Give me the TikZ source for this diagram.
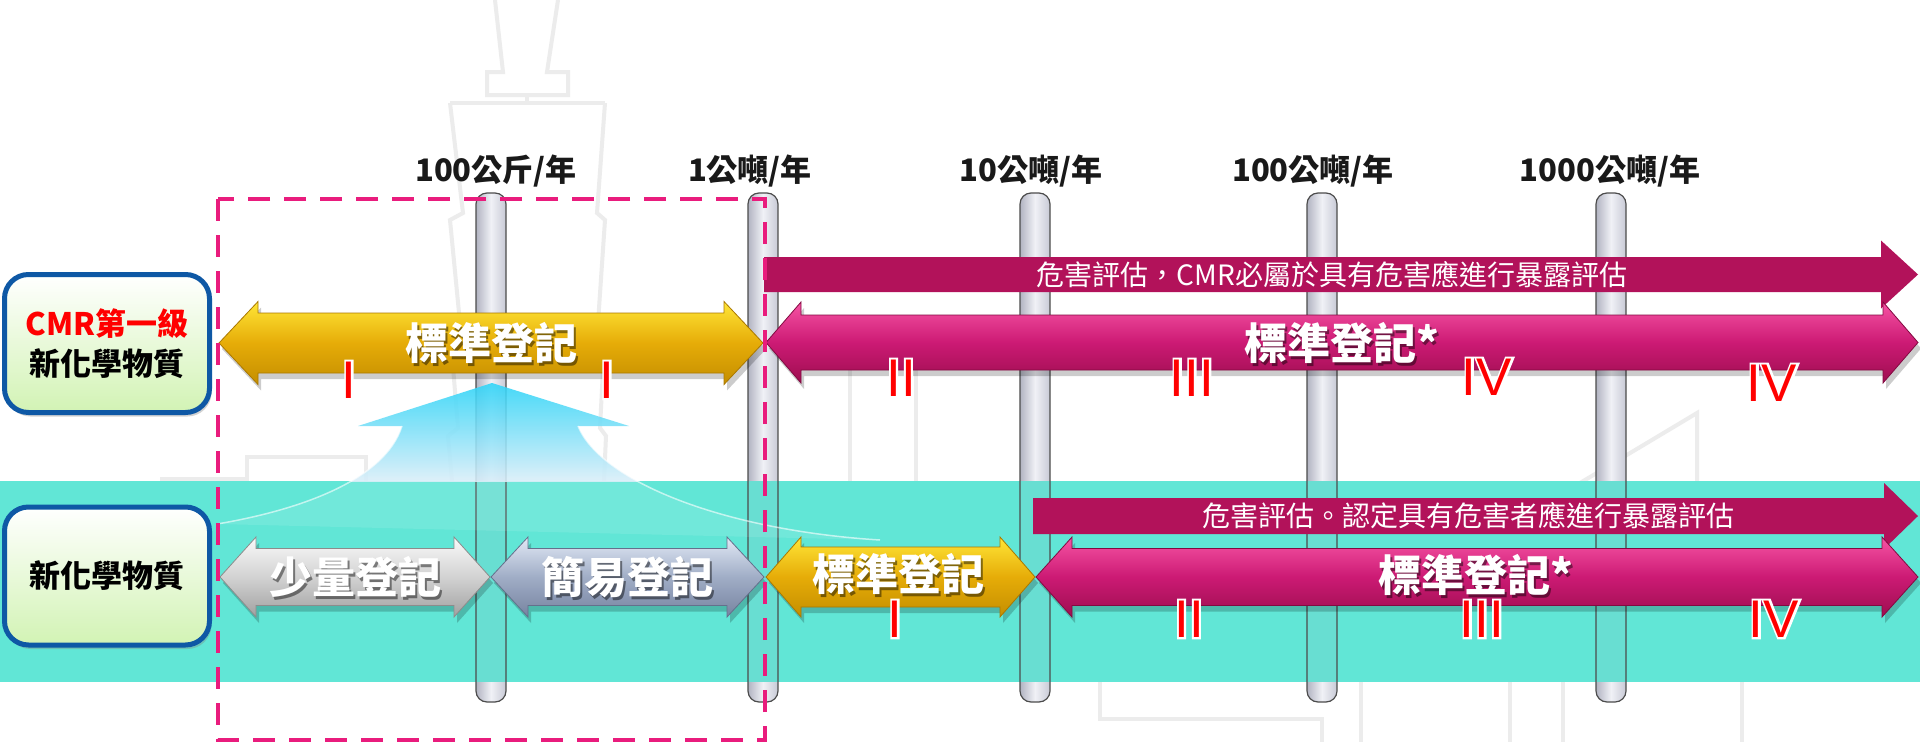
\documentclass[tikz,border=0pt]{standalone}
\usepackage{fontspec}
\newfontfamily\cjk{Noto Sans CJK TC}
\newfontfamily\numfont{Liberation Sans}
\newfontfamily\numhalo[FakeBold=8]{Liberation Sans}
\usetikzlibrary{shadows}
\definecolor{bandteal}{RGB}{97,230,214}
\definecolor{bandbar}{RGB}{104,222,210}
\definecolor{dashpink}{RGB}{233,28,125}
\definecolor{magflat}{RGB}{178,18,90}
\definecolor{wmgray}{RGB}{236,236,236}
\definecolor{yelTop}{RGB}{255,230,55}
\definecolor{yelMid}{RGB}{230,172,8}
\definecolor{yelBot}{RGB}{196,142,0}
\definecolor{yelEdge}{RGB}{170,120,0}
\definecolor{magTop}{RGB}{246,84,164}
\definecolor{magMid}{RGB}{204,26,116}
\definecolor{magBot}{RGB}{158,14,80}
\definecolor{magEdge}{RGB}{130,10,65}
\definecolor{gryTop}{RGB}{250,250,250}
\definecolor{gryMid}{RGB}{210,210,210}
\definecolor{gryBot}{RGB}{160,160,160}
\definecolor{gryEdge}{RGB}{140,140,140}
\definecolor{bgyTop}{RGB}{226,233,246}
\definecolor{bgyMid}{RGB}{160,173,198}
\definecolor{bgyBot}{RGB}{118,131,160}
\definecolor{bgyEdge}{RGB}{100,112,140}
\definecolor{barL}{RGB}{178,180,194}
\definecolor{barM}{RGB}{240,241,246}
\definecolor{barR}{RGB}{200,202,214}
\definecolor{boxBlue}{RGB}{14,88,165}
\definecolor{boxGreen}{RGB}{210,243,180}
\definecolor{fanTop}{RGB}{45,212,248}
\definecolor{fanBot}{RGB}{218,238,249}
\tikzset{
  wmline/.style={draw=wmgray, line width=4pt},
  barshade/.style={left color=barL, right color=barR, middle color=barM},
  baredge/.style={draw=black!70, line width=1.2pt},
  yelarrow/.style={top color=yelTop, bottom color=yelBot, middle color=yelMid, draw=yelEdge, line width=0.8pt},
  magarrow/.style={top color=magTop, bottom color=magBot, middle color=magMid, draw=magEdge, line width=0.8pt},
  gryarrow/.style={top color=gryTop, bottom color=gryBot, middle color=gryMid, draw=gryEdge, line width=0.8pt},
  bgyarrow/.style={top color=bgyTop, bottom color=bgyBot, middle color=bgyMid, draw=bgyEdge, line width=0.8pt},
  thinarrow/.style={fill=magflat},
  arrowtxt/.style={text=white, font=\cjk\bfseries\fontsize{43}{43}\selectfont, inner sep=0pt},
  arrowtxtsh/.style={text=black, opacity=0.45, font=\cjk\bfseries\fontsize{43}{43}\selectfont, inner sep=0pt},
  thintxt/.style={text=white, font=\cjk\fontsize{28}{28}\selectfont, inner sep=0pt},
  toplab/.style={text=black!90, font=\cjk\bfseries\fontsize{31}{31}\selectfont, inner sep=0pt},
  romred/.style={text=red, font=\numfont\fontsize{53}{53}\selectfont, inner sep=0pt},
  romhalo/.style={text=white, font=\numhalo\fontsize{53}{53}\selectfont, inner sep=0pt},
  catbox/.style={minimum width=205pt, minimum height=138pt, rounded corners=24pt, draw=boxBlue, line width=5pt,
     top color=white, bottom color=boxGreen, drop shadow={opacity=0.35, shadow xshift=2pt, shadow yshift=-4pt},
     font=\cjk\bfseries\fontsize{31}{40}\selectfont, align=center, inner sep=0pt},
  dashbox/.style={draw=dashpink, line width=4pt, dash pattern=on 22pt off 14pt},
}
% double arrow: xl, xr, yc, head half height, shaft half height, head length, style
\newcommand\DblArrow[7]{%
  \begin{scope}[shift={(3,6)}]
    \fill[black,opacity=0.2] (#1,#3) -- (#1+#6,#3-#4) -- (#1+#6,#3-#5) -- (#2-#6,#3-#5) -- (#2-#6,#3-#4) -- (#2,#3) -- (#2-#6,#3+#4) -- (#2-#6,#3+#5) -- (#1+#6,#3+#5) -- (#1+#6,#3+#4) -- cycle;
  \end{scope}
  \path[#7] (#1,#3) -- (#1+#6,#3-#4) -- (#1+#6,#3-#5) -- (#2-#6,#3-#5) -- (#2-#6,#3-#4) -- (#2,#3) -- (#2-#6,#3+#4) -- (#2-#6,#3+#5) -- (#1+#6,#3+#5) -- (#1+#6,#3+#4) -- cycle;
}
\newcommand\SglArrow[7]{%
  \path[#7] (#1,#3-#5) -- (#2-#6,#3-#5) -- (#2-#6,#3-#4) -- (#2,#3) -- (#2-#6,#3+#4) -- (#2-#6,#3+#5) -- (#1,#3+#5) -- cycle;
}
% roman numeral: name, x, y, text
\newcommand\RomNum[4]{%
  \node[romhalo] (#1h) at (#2,#3) {#4};
  \node[romred] (#1) at (#2,#3) {#4};
}
\def\fanpathA{(492,383) -- (629,426) -- (578,426) .. controls (600,480) and (720,530) .. (880,540) -- (217,524) .. controls (300,510) and (385,480) .. (402,426) -- (358,426) -- cycle}
\begin{document}
\begin{tikzpicture}[x=1pt,y=-1pt]
\useasboundingbox (0,0) rectangle (1920,742);
\fill[white] (0,0) rectangle (1920,742);
% watermark
\draw[wmline] (495,0) -- (503,72) -- (487,72) -- (487,95) -- (568,95) -- (568,72) -- (547,72) -- (558,0);
\draw[wmline] (527,95) -- (527,103);
\draw[wmline] (450,103) -- (605,103);
\draw[wmline] (450,103) -- (463,213) -- (450,220) -- (460,323) -- (450,330) -- (458,428) -- (448,436) -- (452,481);
\draw[wmline] (605,103) -- (597,213) -- (605,220) -- (598,323) -- (605,330) -- (600,428) -- (606,436) -- (604,481);
\draw[wmline] (160,479) -- (247,479) -- (247,457) -- (366,457) -- (366,481);
\draw[wmline] (850,370) -- (850,481);
\draw[wmline] (916,370) -- (916,481);
\draw[wmline] (1580,483) -- (1697,413) -- (1697,481);
\draw[wmline] (1100,682) -- (1100,719) -- (1322,719) -- (1322,742);
\draw[wmline] (1361,682) -- (1361,742);
\draw[wmline] (1510,682) -- (1510,742);
\draw[wmline] (1563,682) -- (1563,742);
\draw[wmline] (1742,682) -- (1742,742);
% bars
\foreach \bx in {491,763,1035,1322,1611}
  \path[barshade, rounded corners=11pt] (\bx-15,193) rectangle (\bx+15,702);
% band
\fill[bandteal] (0,481) rectangle (1920,682);
\foreach \bx in {491,763,1035,1322,1611}{
  \fill[bandbar] (\bx-15,481) rectangle (\bx+15,682);
  \draw[baredge, rounded corners=11pt] (\bx-15,193) rectangle (\bx+15,702);
}
% fan arrow
\begin{scope}
  \clip \fanpathA;
  \shade[top color=fanTop, bottom color=fanBot, opacity=0.88] (200,383) rectangle (900,481);
  \fill[white, opacity=0.1] (200,481) rectangle (900,560);
\end{scope}
\draw[white, opacity=0.6, line width=1.5pt] (578,426) .. controls (600,480) and (720,530) .. (880,540);
\draw[white, opacity=0.6, line width=1.5pt] (402,426) .. controls (385,480) and (300,510) .. (217,524);
% top labels
\node[toplab] (l1) at (496,171) {100公斤/年};
\node[toplab] (l2) at (750,171) {1公噸/年};
\node[toplab] (l3) at (1031,171) {10公噸/年};
\node[toplab] (l4) at (1313,171) {100公噸/年};
\node[toplab] (l5) at (1610,171) {1000公噸/年};
% CMR row arrows
\SglArrow{764}{1918}{274.5}{34}{17.5}{37}{thinarrow}
\node[thintxt] (h1) at (1332,274.5) {危害評估，CMR必屬於具有危害應進行暴露評估};
\DblArrow{219}{763}{343}{41.5}{30}{39}{yelarrow}
\DblArrow{766}{1918}{342.5}{40.5}{27.5}{35}{magarrow}
\node[arrowtxtsh] (a1s) at (493,346) {標準登記};
\node[arrowtxt] (a1) at (491,343) {標準登記};
\node[arrowtxtsh] (a2s) at (1344,346) {標準登記*};
\node[arrowtxt] (a2) at (1342,343) {標準登記*};
% lower row arrows
\SglArrow{1033}{1918}{516}{33}{18}{34}{thinarrow}
\node[thintxt] (h2) at (1468,516) {危害評估。認定具有危害者應進行暴露評估};
\DblArrow{220}{490}{577}{40}{28.5}{36}{gryarrow}
\DblArrow{491}{764}{577}{40}{28.5}{37}{bgyarrow}
\DblArrow{766}{1035}{577}{40}{30}{35}{yelarrow}
\DblArrow{1036}{1918}{577}{40}{28.5}{36}{magarrow}
\node[arrowtxtsh] (b1s) at (357,580) {少量登記};
\node[arrowtxt] (b1) at (355,577) {少量登記};
\node[arrowtxtsh] (b2s) at (629,580) {簡易登記};
\node[arrowtxt] (b2) at (627,577) {簡易登記};
\node[arrowtxtsh] (b3s) at (900,577) {標準登記};
\node[arrowtxt] (b3) at (898,574) {標準登記};
\node[arrowtxtsh] (b4s) at (1478,578) {標準登記*};
\node[arrowtxt] (b4) at (1476,575) {標準登記*};
% roman numerals
\RomNum{r1}{349}{380}{I}
\RomNum{r2}{607}{380}{I}
\RomNum{r3}{901}{378}{II}
\RomNum{r4}{1192}{378}{III}
\RomNum{r5}{1487}{377}{IV}
\RomNum{r6}{1772}{383}{IV}
\RomNum{r7}{895}{619}{I}
\RomNum{r8}{1189}{619}{II}
\RomNum{r9}{1482}{619}{III}
\RomNum{r10}{1774}{619}{IV}
% dashed frame
\draw[dashbox] (218,199) rectangle (765,740);
% category boxes
\node[catbox] (cmrbox) at (107,343.5) {{\color{red}CMR第一級}\\新化學物質};
\node[catbox] (newbox) at (107,576) {新化學物質};
\end{tikzpicture}
\end{document}
